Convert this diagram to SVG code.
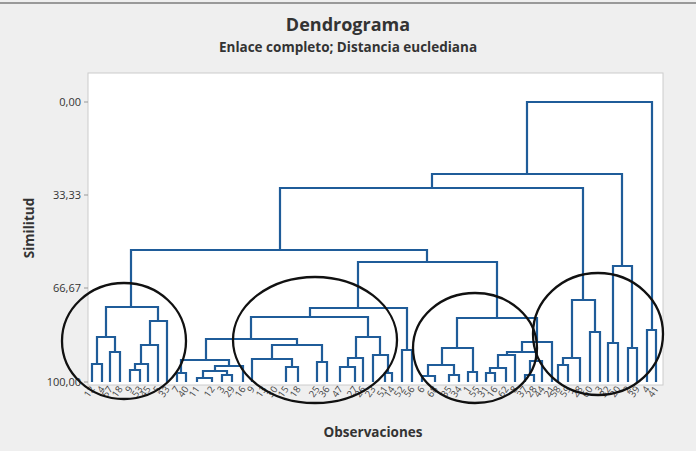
<svg xmlns="http://www.w3.org/2000/svg" width="696" height="451" viewBox="0 0 696 451">
<style>
.t{font-family:"Open Sans","Liberation Sans",sans-serif;fill:#333}
.ax{font-size:11px;text-anchor:end}
.lb{font-size:9.5px;text-anchor:end;fill:#444}
.d path{fill:none;stroke:#1f5c99;stroke-width:2.2}
.c{fill:none;stroke:#111;stroke-width:2.3}
</style>
<rect width="696" height="451" fill="#efefef"/>
<line x1="0" y1="3" x2="696" y2="3" stroke="#999" stroke-width="2"/>
<text class="t" x="348" y="31" font-size="18" font-weight="bold" text-anchor="middle">Dendrograma</text>
<text class="t" x="348" y="52" font-size="13.5" font-weight="bold" text-anchor="middle">Enlace completo; Distancia euclediana</text>
<rect x="88" y="73" width="575" height="312" fill="#fff" stroke="#ccc"/>
<g id="axis">
<g stroke="#999"><line x1="84" y1="102" x2="88" y2="102"/><line x1="84" y1="195" x2="88" y2="195"/><line x1="84" y1="288" x2="88" y2="288"/><line x1="84" y1="382" x2="88" y2="382"/></g>
<text class="t ax" x="81" y="106">0,00</text>
<text class="t ax" x="81" y="199">33,33</text>
<text class="t ax" x="81" y="292">66,67</text>
<text class="t ax" x="81" y="386">100,00</text>
<text class="t" x="34" y="228" font-size="13.5" font-weight="bold" text-anchor="middle" transform="rotate(-90 34 228)">Similitud</text>
<text class="t" x="373" y="437" font-size="13.5" font-weight="bold" text-anchor="middle">Observaciones</text>
</g>
<g id="connectors" class="d">
<path d="M527 174V102H652V330M647 382V330H656V382"/>
<path d="M432 188V174H622V266M613 343V266H632V348M608 382V343H618V382M628 382V348H637V382"/>
<path d="M280 250V188H583V300M572 358V300H595V332M563 365V358H580V382M558 382V365H568V382M590 382V332H600V382"/>
<path d="M131 307V250H427V262M358 308V262H497V318"/>
<path d="M97 364V337H115V352M92 382V364H102V382M110 382V352H120V382M106 337V307H158V321M141 364V345H158V382M150 345V321H167V382M135 370V364H148V382M130 382V370H140V382"/>
<path d="M310 317V308H407V350M402 382V350H412V382"/>
<path d="M251 339V317H368V337M356 358V337H380V355M348 367V358H363V382M340 382V367H355V382M373 382V355H388V373M385 382V373H392V382"/>
<path d="M206 360V339H297V345M181 373V360H229V366M177 382V373H186V382M215 371V366H243V382M203 378V371H227V375M197 382V378H212V382M222 382V375H232V382"/>
<path d="M272 359V345H322V362M317 382V362H327V382M252 382V359H292V367M286 382V367H298V382"/>
<path d="M457 348V318H537V342M442 365V348H473V372M428 376V365H454V375M422 382V376H435V382M449 382V375H459V382M468 382V372H477V382"/>
<path d="M522 352V342H552V382M507 355V352H536V361M498 368V355H515V382M490 373V368H506V382M486 382V373H495V382M530 375V361H542V382M525 382V375H534V382"/>
</g>
<g id="labels">
<text class="t lb" transform="translate(95 389) rotate(-55)">12</text>
<text class="t lb" transform="translate(105 389) rotate(-55)">4</text>
<text class="t lb" transform="translate(113 389) rotate(-55)">57</text>
<text class="t lb" transform="translate(123 389) rotate(-55)">18</text>
<text class="t lb" transform="translate(133 389) rotate(-55)">9</text>
<text class="t lb" transform="translate(143 389) rotate(-55)">53</text>
<text class="t lb" transform="translate(151 389) rotate(-55)">45</text>
<text class="t lb" transform="translate(161 389) rotate(-55)">5</text>
<text class="t lb" transform="translate(170 389) rotate(-55)">33</text>
<text class="t lb" transform="translate(180 389) rotate(-55)">7</text>
<text class="t lb" transform="translate(189 389) rotate(-55)">40</text>
<text class="t lb" transform="translate(200 389) rotate(-55)">11</text>
<text class="t lb" transform="translate(215 389) rotate(-55)">12</text>
<text class="t lb" transform="translate(225 389) rotate(-55)">3</text>
<text class="t lb" transform="translate(235 389) rotate(-55)">29</text>
<text class="t lb" transform="translate(246 389) rotate(-55)">16</text>
<text class="t lb" transform="translate(255 389) rotate(-55)">9</text>
<text class="t lb" transform="translate(267 389) rotate(-55)">13</text>
<text class="t lb" transform="translate(278 389) rotate(-55)">30</text>
<text class="t lb" transform="translate(289 389) rotate(-55)">15</text>
<text class="t lb" transform="translate(301 389) rotate(-55)">18</text>
<text class="t lb" transform="translate(320 389) rotate(-55)">25</text>
<text class="t lb" transform="translate(330 389) rotate(-55)">36</text>
<text class="t lb" transform="translate(343 389) rotate(-55)">47</text>
<text class="t lb" transform="translate(358 389) rotate(-55)">27</text>
<text class="t lb" transform="translate(366 389) rotate(-55)">26</text>
<text class="t lb" transform="translate(376 389) rotate(-55)">23</text>
<text class="t lb" transform="translate(388 389) rotate(-55)">51</text>
<text class="t lb" transform="translate(395 389) rotate(-55)">14</text>
<text class="t lb" transform="translate(405 389) rotate(-55)">52</text>
<text class="t lb" transform="translate(415 389) rotate(-55)">56</text>
<text class="t lb" transform="translate(425 389) rotate(-55)">6</text>
<text class="t lb" transform="translate(438 389) rotate(-55)">68</text>
<text class="t lb" transform="translate(452 389) rotate(-55)">35</text>
<text class="t lb" transform="translate(462 389) rotate(-55)">34</text>
<text class="t lb" transform="translate(471 389) rotate(-55)">1</text>
<text class="t lb" transform="translate(480 389) rotate(-55)">55</text>
<text class="t lb" transform="translate(489 389) rotate(-55)">31</text>
<text class="t lb" transform="translate(498 389) rotate(-55)">16</text>
<text class="t lb" transform="translate(509 389) rotate(-55)">62</text>
<text class="t lb" transform="translate(518 389) rotate(-55)">8</text>
<text class="t lb" transform="translate(528 389) rotate(-55)">37</text>
<text class="t lb" transform="translate(537 389) rotate(-55)">28</text>
<text class="t lb" transform="translate(545 389) rotate(-55)">44</text>
<text class="t lb" transform="translate(555 389) rotate(-55)">21</text>
<text class="t lb" transform="translate(561 389) rotate(-55)">58</text>
<text class="t lb" transform="translate(571 389) rotate(-55)">59</text>
<text class="t lb" transform="translate(583 389) rotate(-55)">28</text>
<text class="t lb" transform="translate(593 389) rotate(-55)">60</text>
<text class="t lb" transform="translate(603 389) rotate(-55)">3</text>
<text class="t lb" transform="translate(611 389) rotate(-55)">32</text>
<text class="t lb" transform="translate(621 389) rotate(-55)">20</text>
<text class="t lb" transform="translate(631 389) rotate(-55)">2</text>
<text class="t lb" transform="translate(640 389) rotate(-55)">39</text>
<text class="t lb" transform="translate(650 389) rotate(-55)">4</text>
<text class="t lb" transform="translate(659 389) rotate(-55)">41</text>
</g>
<g id="circles">
<ellipse class="c" cx="124" cy="341" rx="62" ry="58"/>
<ellipse class="c" cx="315" cy="340" rx="82" ry="63"/>
<ellipse class="c" cx="475" cy="348" rx="62" ry="55"/>
<ellipse class="c" cx="598" cy="334" rx="65" ry="61"/>
</g>
</svg>
